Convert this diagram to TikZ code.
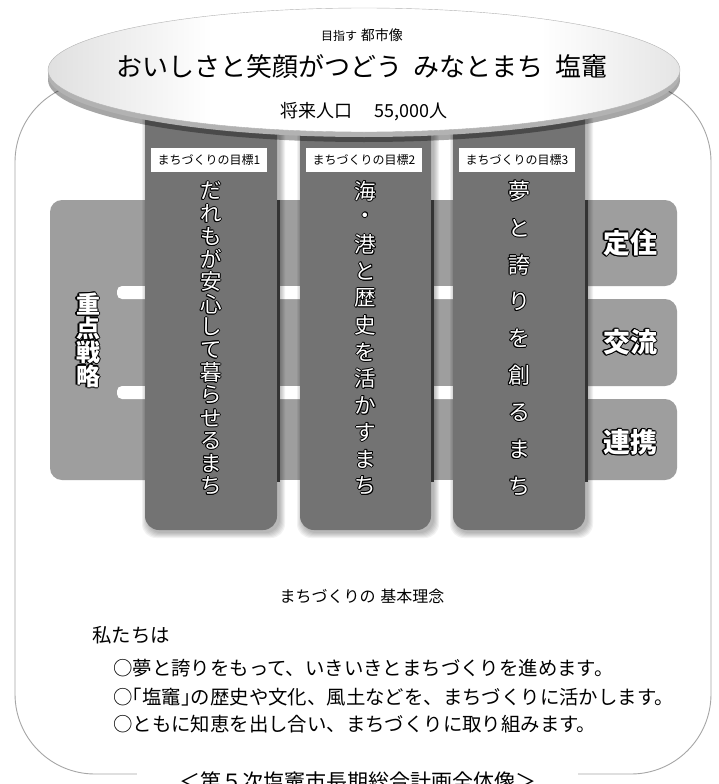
\documentclass[tikz,border=0pt]{standalone}
\usepackage{fontspec}
\setmainfont{Noto Sans CJK JP}
\definecolor{colC}{gray}{0.45}
\definecolor{colB}{gray}{0.62}
\pgfdeclarehorizontalshading{ellsh}{100bp}{color(0bp)=(gray!75); color(22bp)=(gray!30); color(38bp)=(white); color(64bp)=(white); color(80bp)=(gray!30); color(100bp)=(gray!75)}
\makeatletter
\newcommand\vstack[2]{\vbox{\offinterlineskip\@tfor\vs@c:=#2\do{\vbox to #1{\vss\hbox to 1.2em{\hss\vs@c\hss}\vss}}}}
\makeatother
\newlength\ow
\newcommand\outl[2][1pt]{\setlength\ow{#1}\leavevmode
 \rlap{\color{black}\kern-\ow #2}%
 \rlap{\color{black}\kern\ow #2}%
 \rlap{\color{black}\raisebox{\ow}{#2}}%
 \rlap{\color{black}\raisebox{-\ow}{#2}}%
 \rlap{\color{black}\kern-0.7\ow\raisebox{0.7\ow}{#2}}%
 \rlap{\color{black}\kern0.7\ow\raisebox{0.7\ow}{#2}}%
 \rlap{\color{black}\kern-0.7\ow\raisebox{-0.7\ow}{#2}}%
 \rlap{\color{black}\kern0.7\ow\raisebox{-0.7\ow}{#2}}%
 {\color{white}#2}}
\newcommand\lbr{\makebox[0.5em][r]{「}}
\newcommand\rbr{\makebox[0.5em][l]{」}}
\tikzset{
  bandbox/.style={fill=colB, rounded corners=12pt},
  colbox/.style={fill=colC, rounded corners=14pt},
  edgeline/.style={fill=black!80},
  goallabel/.style={fill=white, minimum width=116pt, minimum height=24pt, inner sep=0pt, font=\fontsize{12}{14}\selectfont},
  bodytext/.style={anchor=west, inner sep=0pt, font=\fontsize{19.4}{21}\selectfont},
}
\begin{document}
\begin{tikzpicture}[x=1pt,y=-1pt]
\useasboundingbox (0,0) rectangle (718,784);
\clip (0,0) rectangle (718,784);
\fill[white] (0,0) rectangle (718,784);
% outer frame
\draw[gray!70, line width=0.9pt, rounded corners=80pt] (15,82) rectangle (711,774);
% strategy bands
\fill[bandbox] (50,200) rectangle (170,480);
\fill[colB] (150,200) rectangle (595,480);
\fill[white, rounded corners=5pt] (117,286) rectangle (690,299);
\fill[white, rounded corners=5pt] (117,386) rectangle (690,399);
\fill[bandbox] (560,200) rectangle (677,286);
\fill[bandbox] (560,299) rectangle (677,386);
\fill[bandbox] (560,399) rectangle (677,480);
% column shadows
\foreach \l/\r in {145/277, 300/431, 453/585} {
  \foreach \i in {1,...,6}
    \fill[black, opacity=0.05, rounded corners=14pt] (\l-\i+3,100) rectangle (\r+\i+2,530+\i+2);
}
% columns
\fill[colbox] (145,100) rectangle (277,530);
\fill[colbox] (300,100) rectangle (431,530);
\fill[colbox] (453,100) rectangle (585,530);
\fill[edgeline] (277,200) rectangle (280,482);
\fill[edgeline] (431,200) rectangle (434,482);
\fill[edgeline] (585,200) rectangle (588,482);
% ellipse
\fill[black, opacity=0.35] (364,80) ellipse [x radius=316pt, y radius=62pt];
\fill[gray!60] (364,75) ellipse [x radius=316pt, y radius=62pt];
\shade[shading=ellsh, draw=gray!60] (364,70) ellipse [x radius=316pt, y radius=62pt];
\node[font=\fontsize{12}{14}\selectfont] (vision) at (362,35) {目指す\hspace{0.3em}{\fontsize{14}{16}\selectfont 都市像}};
\node[font=\fontsize{26}{28}\selectfont] (title) at (362,67) {おいしさと笑顔がつどう\hspace{0.45em}みなとまち\hspace{0.45em}塩竈};
\node[font=\fontsize{18}{20}\selectfont] (pop) at (364,112) {将来人口\hspace{1.2em}55,000人};
% goal labels
\node[goallabel] (goal1) at (209,160) {まちづくりの目標1};
\node[goallabel] (goal2) at (364,160) {まちづくりの目標2};
\node[goallabel] (goal3) at (517,160) {まちづくりの目標3};
% column texts
\node (g1text) at (211,338.5) {\fontsize{21.5}{22}\selectfont\outl{\vstack{22.7pt}{だれもが安心して暮らせるまち}}};
\node (g2text) at (365.5,338.5) {\fontsize{21.5}{22}\selectfont\outl{\vstack{26.8pt}{海・港と歴史を活かすまち}}};
\node (g3text) at (519,338.5) {\fontsize{22}{22}\selectfont\outl{\vstack{36.9pt}{夢と誇りを創るまち}}};
% strategy labels
\node (strat) at (88,340) {\fontsize{24}{24}\selectfont\bfseries\outl[1.2pt]{\vstack{24pt}{重点戦略}}};
\node (s1) at (630,243) {\fontsize{27}{27}\selectfont\bfseries\outl[1.2pt]{定住}};
\node (s2) at (630,342) {\fontsize{27}{27}\selectfont\bfseries\outl[1.2pt]{交流}};
\node (s3) at (630,442) {\fontsize{27}{27}\selectfont\bfseries\outl[1.2pt]{連携}};
% principles
\node[font=\fontsize{16}{18}\selectfont] (kihon) at (362,596) {まちづくりの\hspace{0.3em}基本理念};
\node[bodytext] (we) at (92,635) {私たちは};
\node[bodytext] (b1) at (113,668) {○夢と誇りをもって、いきいきとまちづくりを進めます。};
\node[bodytext] (b2) at (113,697) {○\lbr 塩竈\rbr の歴史や文化、風土などを、まちづくりに活かします。};
\node[bodytext] (b3) at (113,724) {○ともに知恵を出し合い、まちづくりに取り組みます。};
\node[fill=white, inner xsep=42pt, inner ysep=3pt, font=\fontsize{21}{22}\selectfont] (cap) at (357.5,781) {＜第５次塩竈市長期総合計画全体像＞};
\end{tikzpicture}
\end{document}
